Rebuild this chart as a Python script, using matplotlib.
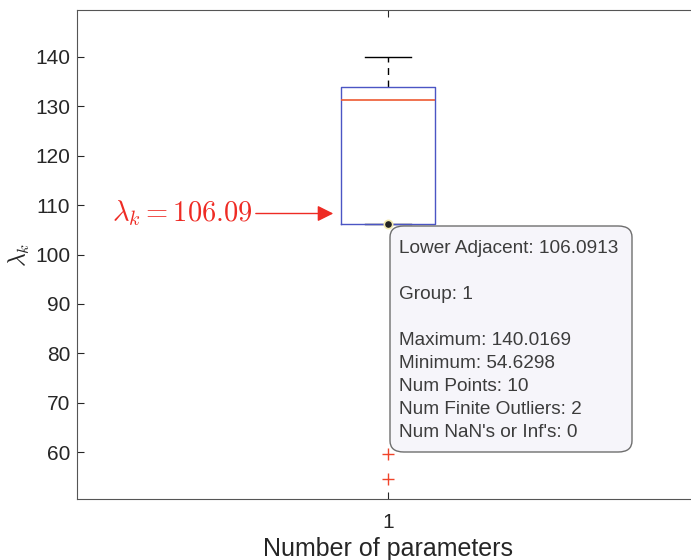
import matplotlib
matplotlib.use('Agg')
import matplotlib.pyplot as plt
from matplotlib.patches import FancyBboxPatch

# box plot statistics
grupo = [1]
maximo = 140.0169
cuartil_sup = 133.9
mediana = 131.3
cuartil_inf = 106.0913
adyacente_inf = 106.0913
atipicos = [59.6, 54.6298]

texto_dato = ["Lower Adjacent: 106.0913", "", "Group: 1", "",
              "Maximum: 140.0169", "Minimum: 54.6298", "Num Points: 10",
              "Num Finite Outliers: 2", "Num NaN's or Inf's: 0"]

plt.rcParams['font.family'] = ['Liberation Sans', 'DejaVu Sans']
plt.rcParams['mathtext.fontset'] = 'cm'

W, H = 691, 560
fig = plt.figure(figsize=(W / 100, H / 100), dpi=100)
ax = fig.add_axes([77 / W, 1 - 499 / H, (699 - 77) / W, (499 - 10) / H])

stats = [dict(med=mediana, q1=cuartil_inf, q3=cuartil_sup,
              whislo=adyacente_inf, whishi=maximo, fliers=atipicos, label='1')]
ax.bxp(stats, positions=grupo, widths=0.15,
       boxprops=dict(color='#4b55c4', linewidth=1.0, zorder=3),
       medianprops=dict(color='#ee5a32', linewidth=1.2, zorder=3),
       whiskerprops=dict(color='black', linestyle=(0, (5, 4)), linewidth=1.0, zorder=2),
       capprops=dict(color='black', linewidth=1.0, zorder=2),
       capwidths=0.075,
       flierprops=dict(marker='+', markeredgecolor='#f0442a', markersize=9,
                       linestyle='none', markeredgewidth=1.0))

ax.set_xlim(0.5, 1.5)
ax.set_ylim(50.5, 149.5)
ax.set_yticks([60, 70, 80, 90, 100, 110, 120, 130, 140])
ax.tick_params(direction='in', labelsize=15, colors='#262626', length=5,
               top=True, right=True, pad=5)
ax.tick_params(axis='x', pad=10)
for s in ax.spines.values():
    s.set_color('#555555')
ax.set_xlabel('Number of parameters', fontsize=18, color='#262626', labelpad=4)
ax.set_ylabel(r'$\lambda_k$', fontsize=17, color='#262626', labelpad=2)

# datatip marker
ax.plot(grupo, [adyacente_inf], 'o', color='#222222', markersize=6,
        markeredgecolor='#f3e9b0', markeredgewidth=1.2, zorder=5)

# datatip box
caja = FancyBboxPatch((390 / W, 1 - 452 / H), (632 - 390) / W, (452 - 226) / H,
                      boxstyle='round,pad=0,rounding_size=0.02',
                      transform=fig.transFigure, facecolor='#f6f5fa',
                      edgecolor='#6e6e6e', linewidth=1.0, zorder=6)
fig.patches.append(caja)
fig.text(399 / W, 1 - 240 / H, "\n".join(texto_dato), fontsize=13.7,
         color='#3c3c3c', va='top', ha='left', linespacing=1.465, zorder=7)

# red annotation with arrow
ax.annotate(r'$\lambda_k = 106.09$', xy=(0.912, 108.3), xytext=(0.783, 108.3),
            fontsize=20.5, color='#ee2b24', ha='right', va='center',
            arrowprops=dict(arrowstyle='-|>', color='#ee2b24', lw=1.0,
                            mutation_scale=24, shrinkA=0, shrinkB=0))

fig.savefig('out.png', dpi=100)
